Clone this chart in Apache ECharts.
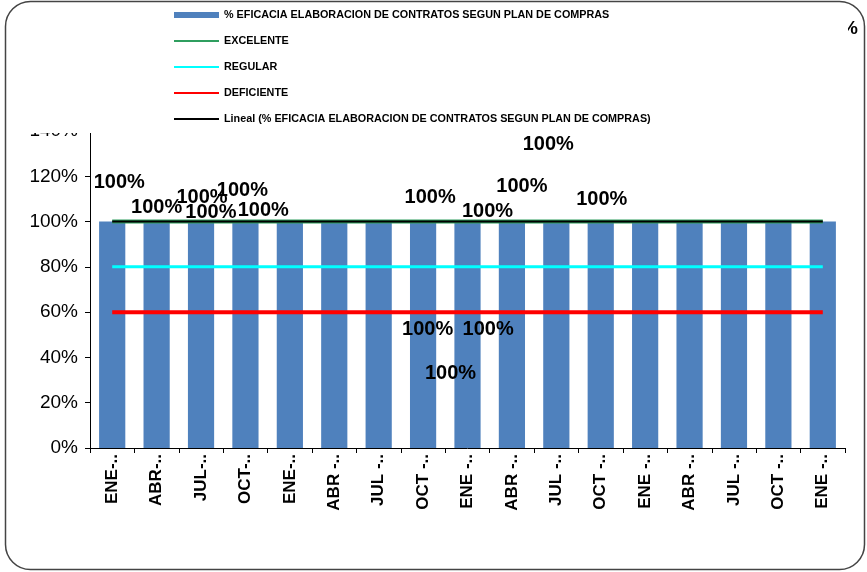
<!DOCTYPE html>
<html>
<head>
<meta charset="utf-8">
<script src="https://cdn.jsdelivr.net/npm/echarts@6/dist/echarts.min.js"></script>
<style>
html, body { margin: 0; padding: 0; background: #fff; }
#chart { width: 867px; height: 572px; }
</style>
</head>
<body>
<div id="chart"></div>
<script>
// data
const categories = ['ENE-..', 'ABR-..', 'JUL-..', 'OCT-..', 'ENE-..', 'ABR -..', 'JUL -..', 'OCT -..', 'ENE -..',
  'ABR -..', 'JUL -..', 'OCT -..', 'ENE -..', 'ABR -..', 'JUL -..', 'OCT -..', 'ENE -..'];
const eficacia = [100, 100, 100, 100, 100, 100, 100, 100, 100, 100, 100, 100, 100, 100, 100, 100, 100];
const excelente = [100, 100, 100, 100, 100, 100, 100, 100, 100, 100, 100, 100, 100, 100, 100, 100, 100];
const regular = [80, 80, 80, 80, 80, 80, 80, 80, 80, 80, 80, 80, 80, 80, 80, 80, 80];
const deficiente = [60, 60, 60, 60, 60, 60, 60, 60, 60, 60, 60, 60, 60, 60, 60, 60, 60];
const lineal = [100, 100, 100, 100, 100, 100, 100, 100, 100, 100, 100, 100, 100, 100, 100, 100, 100];
const yTicks = [0, 20, 40, 60, 80, 100, 120, 140];

const serieName = '% EFICACIA ELABORACION DE CONTRATOS SEGUN PLAN DE COMPRAS';

// where the (scattered) data labels sit, relative to the bar centre
const labelOffsets = [
  [7, -152], [0, -127], [1, -137], [-3, -144], [-79, -122], [-71, -124], [49, -5], [7, -137],
  [20, -123], [10, -148], [-8, -190], [1, -135], [-157, -5], [-239, 39], null, null, null
];

const font = 'Liberation Sans, Arial, sans-serif';

let chart = echarts.init(document.getElementById('chart'));

let barData = eficacia.map(function (v, i) {
  let off = labelOffsets[i];
  return {
    value: v,
    label: off ? { show: true, offset: off } : { show: false }
  };
});

let option = {
  animation: false,
  textStyle: { fontFamily: font },
  legend: {
    orient: 'vertical',
    left: 173,
    top: 8,
    padding: 0,
    itemWidth: 45,
    itemHeight: 6,
    itemGap: 12,
    z: 10,
    selectedMode: false,
    textStyle: { fontFamily: font, fontSize: 10.8, fontWeight: 'bold', color: '#000', lineHeight: 14 },
    data: [
      { name: serieName, icon: 'rect' },
      { name: 'EXCELENTE', itemStyle: { opacity: 0 } },
      { name: 'REGULAR', itemStyle: { opacity: 0 } },
      { name: 'DEFICIENTE', itemStyle: { opacity: 0 } },
      { name: 'Lineal (' + serieName + ')', itemStyle: { opacity: 0 } }
    ]
  },
  grid: { left: 90, right: 22, top: 131, bottom: 124 },
  xAxis: {
    type: 'category',
    data: categories,
    axisLine: { lineStyle: { color: '#000', width: 1 } },
    axisTick: { show: true, length: 5, lineStyle: { color: '#000' } },
    axisLabel: {
      rotate: 90, margin: 6, interval: 0,
      fontFamily: font, fontSize: 17, fontWeight: 'bold', color: '#000'
    }
  },
  yAxis: {
    type: 'value',
    min: yTicks[0],
    max: yTicks[yTicks.length - 1],
    interval: 20,
    axisLine: { show: true, lineStyle: { color: '#000', width: 1 } },
    axisTick: { show: true, length: 5, lineStyle: { color: '#000' } },
    splitLine: { show: false },
    axisLabel: { formatter: '{value}%', fontFamily: font, fontSize: 19, color: '#000', margin: 12 }
  },
  series: [
    {
      name: serieName,
      type: 'bar',
      data: barData,
      barCategoryGap: '41%',
      itemStyle: { color: '#4f81bd' },
      label: {
        position: 'inside',
        formatter: '{c}%',
        fontFamily: font, fontSize: 20, fontWeight: 'bold', color: '#000'
      }
    },
    {
      name: 'EXCELENTE', type: 'line', data: excelente, symbol: 'none',
      lineStyle: { color: '#2f9e5f', width: 4 }, itemStyle: { color: '#2f9e5f' }, z: 3
    },
    {
      name: 'REGULAR', type: 'line', data: regular, symbol: 'none',
      lineStyle: { color: '#00ffff', width: 3 }, itemStyle: { color: '#00ffff' }, z: 3
    },
    {
      name: 'DEFICIENTE', type: 'line', data: deficiente, symbol: 'none',
      lineStyle: { color: '#ff0000', width: 4 }, itemStyle: { color: '#ff0000' }, z: 3
    },
    {
      name: 'Lineal (' + serieName + ')', type: 'line', data: lineal, symbol: 'none',
      lineStyle: { color: '#000', width: 2 }, itemStyle: { color: '#000' }, z: 4
    }
  ],
  graphic: [
    // clipped title glyph at the top right, behind the legend box
    {
      type: 'text', left: 841, top: 19, z: 1,
      style: { text: '%', font: 'bold 19px ' + font, fill: '#000' }
    },
    // legend box (white), hides the top of the axis
    {
      type: 'rect', z: 3, silent: true,
      shape: { x: 8, y: 4, width: 840, height: 129 },
      style: { fill: '#fff' }
    },
    // rounded frame
    {
      type: 'rect', z: 20, silent: true,
      shape: { x: 5.5, y: 1.5, width: 859, height: 568, r: 25 },
      style: { fill: 'none', stroke: '#444', lineWidth: 1.5 }
    }
  ]
};

chart.setOption(option);
window.onresize = function () {
  chart.resize();
};
</script>
</body>
</html>
